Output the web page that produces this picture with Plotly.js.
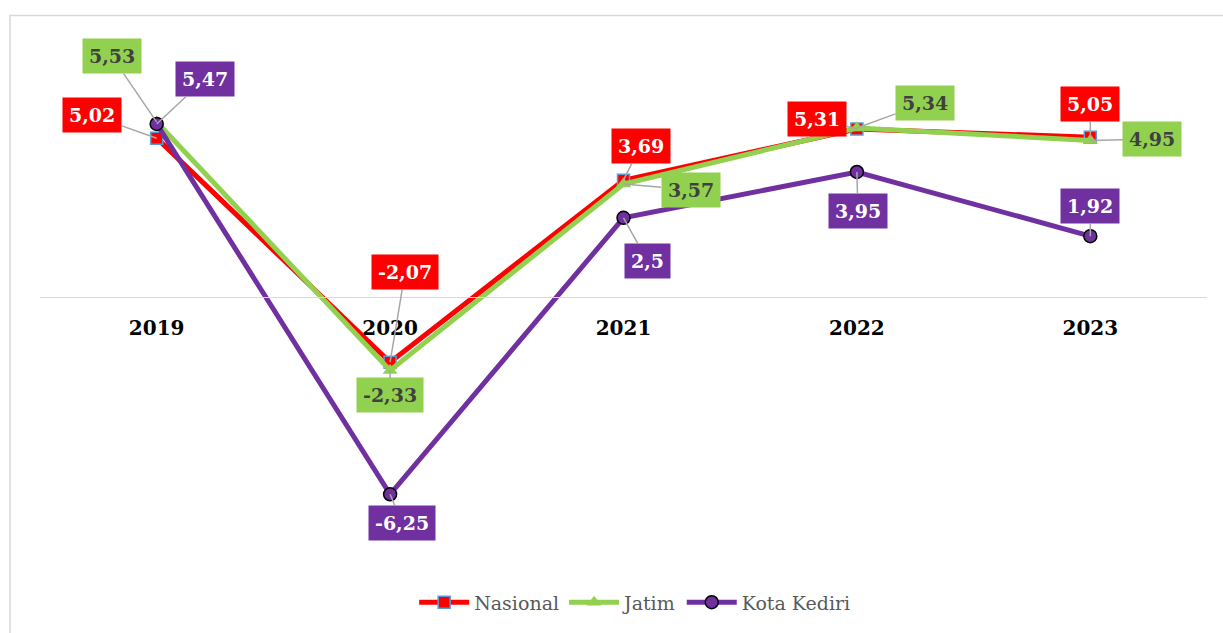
<!DOCTYPE html>
<html><head><meta charset="utf-8">
<script src="https://cdn.plot.ly/plotly-3.0.1.min.js"></script>
<style>html,body{margin:0;padding:0;background:#fff}#c{width:1223px;height:633px}</style>
</head><body><div id="c"></div>
<script>
const years = ['2019','2020','2021','2022','2023'];
const nasional = [5.02, -2.07, 3.69, 5.31, 5.05];
const jatim = [5.53, -2.33, 3.57, 5.34, 4.95];
const kediri = [5.47, -6.25, 2.5, 3.95, 1.92];
const seriesNames = ['Nasional', 'Jatim', 'Kota Kediri'];
// label offsets (px) from each point: [ax, ay]
const offNas = [[-65,-23],[15,-90],[17,-34],[-40,-10],[0,-33]];
const offJat = [[-45,-66],[0,25],[67,6],[68,-25],[62,-1]];
const offKed = [[48,-45],[12,29],[24,43],[1,39],[0,-30]];

const RED='#FF0000', GREEN='#92D050', PURPLE='#7030A0';
const fmt = v => v.toString().replace('.', ',');

const traces = [
  {x: years, y: nasional, name: seriesNames[0], type:'scatter', mode:'lines+markers',
   line:{color:RED, width:5}, marker:{symbol:'square', size:12, color:RED, line:{color:'#5B9BD5', width:1.5}}},
  {x: years, y: jatim, name: seriesNames[1], type:'scatter', mode:'lines+markers',
   line:{color:GREEN, width:5}, marker:{symbol:'triangle-up', size:13, color:GREEN, line:{width:0}}},
  {x: years, y: kediri, name: seriesNames[2], type:'scatter', mode:'lines+markers',
   line:{color:PURPLE, width:5}, marker:{symbol:'circle', size:13, color:PURPLE, line:{color:'#000', width:1.5}}}
];

const annotations = [];
function addLabels(vals, offs, bg, fc){
  vals.forEach((v,i)=>{
    annotations.push({x: i, y: v, xref:'x', yref:'y', text: '<b>' + fmt(v) + '</b>',
      showarrow:true, ax: offs[i][0], ay: offs[i][1], arrowhead:0, arrowwidth:1.5, arrowcolor:'#A6A6A6', standoff:0,
      bgcolor: bg, borderpad: 6, font:{family:'DejaVu Serif', size:19, color: fc}});
  });
}
addLabels(nasional, offNas, RED, '#FFFFFF');
addLabels(jatim, offJat, GREEN, '#404040');
addLabels(kediri, offKed, PURPLE, '#FFFFFF');

const layout = {
  width:1223, height:633,
  margin:{l:40, r:16, t:44, b:113},
  paper_bgcolor:'#fff', plot_bgcolor:'#fff',
  showlegend:true,
  legend:{orientation:'h', x:0.51, xanchor:'center', y:-0.178, yanchor:'middle', itemwidth:50,
    font:{family:'DejaVu Serif', size:19, color:'#595959'}},
  xaxis:{type:'category', range:[-0.5,4.5], anchor:'free', position:(520-298)/476,
    showline:true, linecolor:'#D9D9D9', linewidth:1.5, showgrid:false, zeroline:false, ticks:'',
    tickfont:{family:'DejaVu Serif', size:20, color:'#000', weight:'bold'}, ticklabelstandoff:13, fixedrange:true},
  yaxis:{range:[-7,8], visible:false, showgrid:false, zeroline:false, fixedrange:true},
  annotations: annotations,
  shapes:[{type:'rect', xref:'paper', yref:'paper', x0:-0.0257, x1:1.2, y0:-0.5, y1:(520-15.5)/476,
    line:{color:'#D9D9D9', width:1.5}, fillcolor:'rgba(0,0,0,0)', layer:'below'}]
};
Plotly.newPlot('c', traces, layout, {displayModeBar:false, staticPlot:true});
</script></body></html>
